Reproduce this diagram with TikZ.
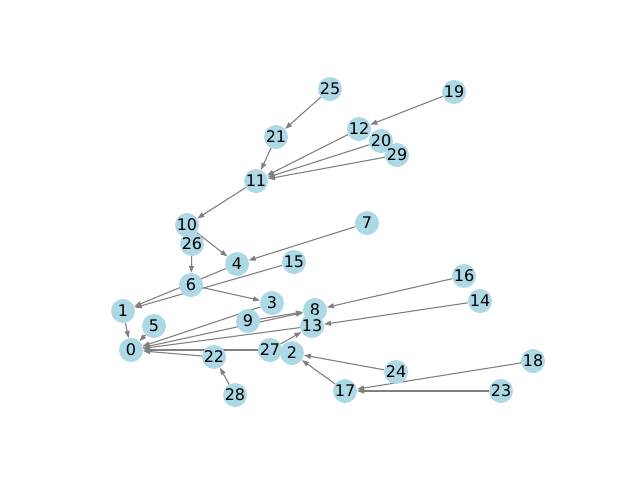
\documentclass[tikz,border=0pt]{standalone}
\usepackage{fontspec}
\setmainfont{DejaVu Sans}
\usetikzlibrary{arrows.meta,backgrounds}
\definecolor{nodeblue}{HTML}{ADD8E6}
\definecolor{edgegray}{HTML}{808080}
\begin{document}
\begin{tikzpicture}[x=1pt,y=-1pt,
  vertex/.style={circle,fill=nodeblue,draw=none,minimum size=24pt,inner sep=0pt,font=\fontsize{16}{18}\selectfont},
  link/.style={draw=edgegray,line width=1.1pt,-{Triangle[length=7pt,width=5pt]}}]
\useasboundingbox (0,0) rectangle (640,480);
\node[vertex] (n0) at (131,350) {0};
\node[vertex] (n1) at (123,311) {1};
\node[vertex] (n2) at (292,353) {2};
\node[vertex] (n3) at (272,303) {3};
\node[vertex] (n4) at (237,264) {4};
\node[vertex] (n5) at (154,326) {5};
\node[vertex] (n6) at (191,285) {6};
\node[vertex] (n7) at (367,223) {7};
\node[vertex] (n8) at (315,310) {8};
\node[vertex] (n9) at (248,321) {9};
\node[vertex] (n10) at (187,225) {10};
\node[vertex] (n11) at (256,181) {11};
\node[vertex] (n12) at (359,129) {12};
\node[vertex] (n13) at (312,326) {13};
\node[vertex] (n14) at (480,301) {14};
\node[vertex] (n15) at (294,262) {15};
\node[vertex] (n16) at (464,276) {16};
\node[vertex] (n17) at (345,391) {17};
\node[vertex] (n18) at (533,361) {18};
\node[vertex] (n19) at (454,92) {19};
\node[vertex] (n20) at (381,141) {20};
\node[vertex] (n21) at (276,137) {21};
\node[vertex] (n22) at (214,357) {22};
\node[vertex] (n23) at (501,391) {23};
\node[vertex] (n24) at (396,372) {24};
\node[vertex] (n25) at (330,89) {25};
\node[vertex] (n26) at (192,244) {26};
\node[vertex] (n27) at (270,350) {27};
\node[vertex] (n28) at (235,395) {28};
\node[vertex] (n29) at (397,155) {29};
\begin{pgfonlayer}{background}
\draw[link] (n25) -- (n21);
\draw[link] (n21) -- (n11);
\draw[link] (n19) -- (n12);
\draw[link] (n12) -- (n11);
\draw[link] (n20) -- (n11);
\draw[link] (n29) -- (n11);
\draw[link] (n11) -- (n10);
\draw[link] (n10) -- (n4);
\draw[link] (n26) -- (n6);
\draw[link] (n7) -- (n4);
\draw[link] (n4) -- (n1);
\draw[link] (n15) -- (n1);
\draw[link] (n6) -- (n3);
\draw[link] (n3) -- (n0);
\draw[link] (n1) -- (n0);
\draw[link] (n5) -- (n0);
\draw[link] (n0) -- (n8);
\draw[link] (n9) -- (n8);
\draw[link] (n16) -- (n8);
\draw[link] (n13) -- (n0);
\draw[link] (n27) -- (n13);
\draw[link] (n14) -- (n13);
\draw[link] (n27) -- (n0);
\draw[link] (n22) -- (n0);
\draw[link] (n28) -- (n22);
\draw[link] (n24) -- (n2);
\draw[link] (n17) -- (n2);
\draw[link] (n18) -- (n17);
\draw[link] (n23) -- (n17);
\end{pgfonlayer}
\end{tikzpicture}
\end{document}
